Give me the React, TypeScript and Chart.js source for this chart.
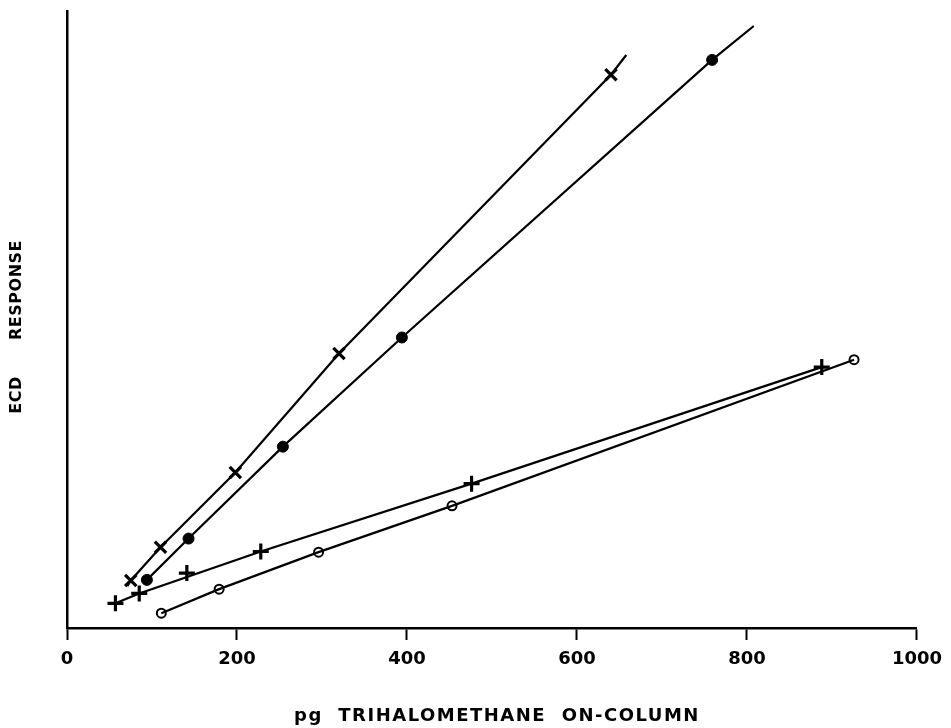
import React, { useEffect, useRef } from "react";
import { Chart, registerables } from "chart.js";

Chart.register(...registerables);

// Data (x = pg on-column, y = relative ECD response, arbitrary units 0-100)
const xSeriesX = [75, 110, 198, 320, 640];
const xSeriesY = [7.7, 13.1, 25.2, 44.5, 89.7];
const xLineX = [71, 75, 110, 198, 320, 640, 658];
const xLineY = [6.8, 7.7, 13.1, 25.2, 44.5, 89.7, 92.9];

const dotX = [94, 143, 254, 394, 759];
const dotY = [7.8, 14.5, 29.4, 47.1, 92.1];
const dotLineX = [94, 143, 254, 394, 759, 808];
const dotLineY = [7.8, 14.5, 29.4, 47.1, 92.1, 97.6];

const plusX = [57, 85, 141, 228, 476, 888];
const plusY = [4.0, 5.6, 8.9, 12.4, 23.4, 42.3];
const plusLineX = [57, 85, 228, 476, 888];
const plusLineY = [4.0, 5.6, 12.4, 23.4, 42.3];

const openX = [111, 179, 296, 453, 926];
const openY = [2.4, 6.3, 12.3, 19.8, 43.5];

const xTicks = [0, 200, 400, 600, 800, 1000];
const xTitle = "pg  TRIHALOMETHANE  ON-COLUMN";
const yTitleA = "ECD";
const yTitleB = "RESPONSE";

const pts = (xs: number[], ys: number[]) => xs.map((x, i) => ({ x, y: ys[i] }));

export default function App() {
  const ref = useRef<HTMLCanvasElement>(null);
  useEffect(() => {
    if (!ref.current) return;
    const titlePlugin = {
      id: "titles",
      afterDraw(chart: any) {
        const ctx = chart.ctx;
        const a = chart.chartArea;
        ctx.save();
        ctx.fillStyle = "#000";
        ctx.letterSpacing = "1.5px";
        ctx.font = "bold 18px 'DejaVu Sans', sans-serif";
        ctx.textAlign = "center";
        ctx.textBaseline = "middle";
        ctx.fillText(xTitle, (a.left + a.right) / 2 + 5, 716);
        ctx.letterSpacing = "0.5px";
        ctx.font = "bold 16px 'DejaVu Sans', sans-serif";
        ctx.save();
        ctx.translate(17, 395);
        ctx.rotate(-Math.PI / 2);
        ctx.fillText(yTitleA, 0, 0);
        ctx.restore();
        ctx.save();
        ctx.translate(17, 290);
        ctx.rotate(-Math.PI / 2);
        ctx.fillText(yTitleB, 0, 0);
        ctx.restore();
        ctx.restore();
      },
    };
    const lineDs = (xs: number[], ys: number[]) => ({
      data: pts(xs, ys),
      showLine: true,
      borderColor: "#000",
      borderWidth: 2.2,
      pointRadius: 0,
      fill: false,
    });
    const chart = new Chart(ref.current, {
      type: "scatter",
      data: {
        datasets: [
          lineDs(xLineX, xLineY),
          lineDs(dotLineX, dotLineY),
          lineDs(plusLineX, plusLineY),
          lineDs(openX, openY),
          {
            data: pts(xSeriesX, xSeriesY),
            pointStyle: "crossRot",
            pointRadius: 8,
            borderColor: "#000",
            borderWidth: 3.2,
          },
          {
            data: pts(dotX, dotY),
            pointStyle: "circle",
            pointRadius: 5.5,
            backgroundColor: "#000",
            borderColor: "#000",
            borderWidth: 1,
          },
          {
            data: pts(plusX, plusY),
            pointStyle: "cross",
            pointRadius: 8,
            borderColor: "#000",
            borderWidth: 3.2,
          },
          {
            data: pts(openX, openY),
            pointStyle: "circle",
            pointRadius: 4.5,
            backgroundColor: "#fff",
            borderColor: "#000",
            borderWidth: 2,
          },
        ] as any,
      },
      options: {
        animation: false,
        responsive: true,
        maintainAspectRatio: false,
        layout: { padding: { top: 8, right: 33, left: 0, bottom: 0 } },
        plugins: { legend: { display: false }, tooltip: { enabled: false } },
        scales: {
          x: {
            type: "linear",
            min: 0,
            max: 1000,
            afterBuildTicks: (s: any) => {
              s.ticks = xTicks.map((v) => ({ value: v }));
            },
            afterFit: (s: any) => {
              s.height = 100;
            },
            border: { display: true, color: "#000", width: 2.5 },
            grid: {
              display: true,
              drawOnChartArea: false,
              drawTicks: true,
              tickLength: 12,
              tickWidth: 2,
              tickColor: "#000",
            },
            ticks: {
              color: "#000",
              padding: 9,
              maxRotation: 0,
              autoSkip: false,
              callback: (v: any) => String(v),
              font: { family: "'DejaVu Sans', sans-serif", size: 18, weight: "bold" },
            },
          },
          y: {
            type: "linear",
            min: 0,
            max: 100,
            afterFit: (s: any) => {
              s.width = 67;
            },
            border: { display: true, color: "#000", width: 2.5 },
            grid: { display: false },
            ticks: { display: false },
          },
        },
      } as any,
      plugins: [titlePlugin],
    });
    return () => chart.destroy();
  }, []);
  return (
    <div style={{ position: "fixed", left: 0, top: 0, width: 951, height: 728, background: "#fff" }}>
      <canvas ref={ref} />
    </div>
  );
}
